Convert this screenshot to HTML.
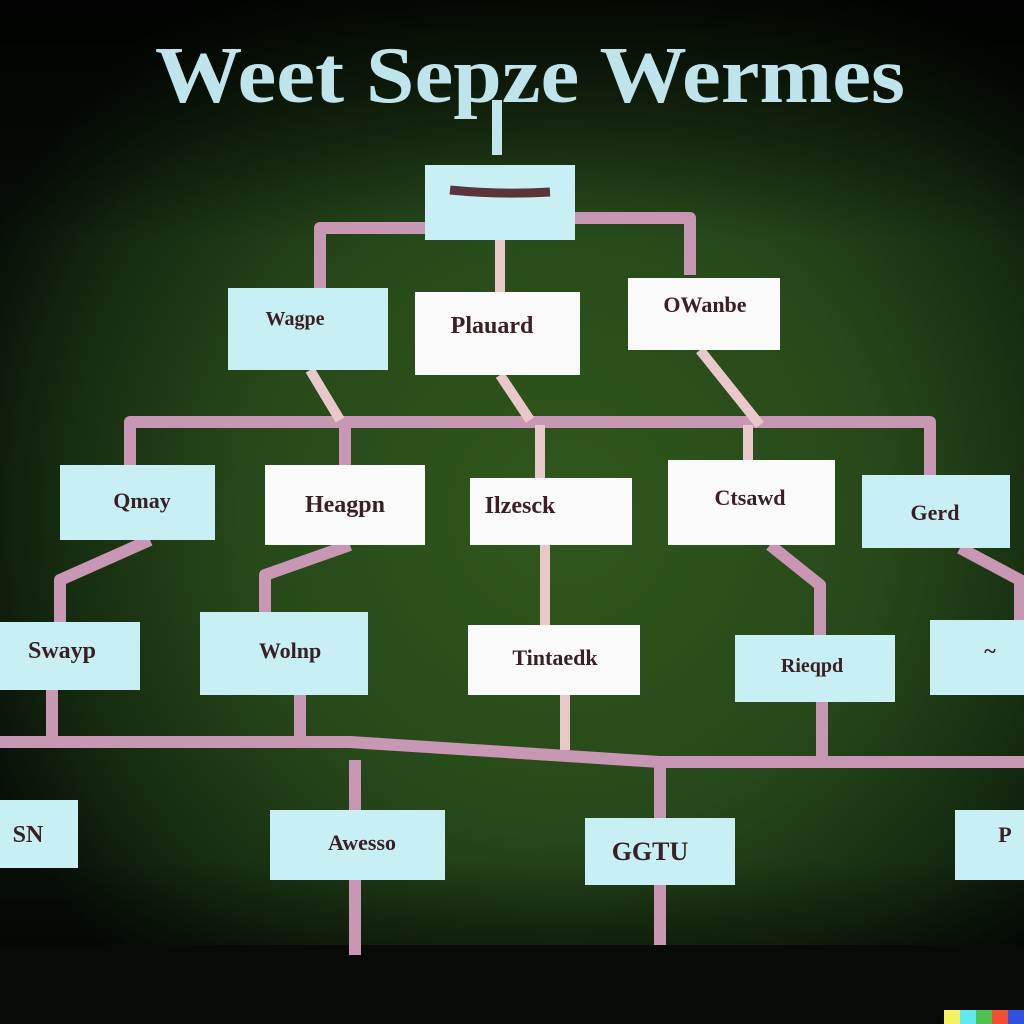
<!DOCTYPE html>
<html><head><meta charset="utf-8"><style>
html,body{margin:0;padding:0;width:1024px;height:1024px;overflow:hidden;background:#0a120a}
svg{display:block}
text{font-family:"Liberation Serif",serif;font-weight:bold;fill:#3a2024;text-anchor:middle}
</style></head><body>
<svg width="1024" height="1024" viewBox="0 0 1024 1024" xmlns="http://www.w3.org/2000/svg">
<defs>
<radialGradient id="bg" cx="0.55" cy="0.5" r="0.62">
<stop offset="0" stop-color="#30581c"/>
<stop offset="0.5" stop-color="#27491a"/>
<stop offset="0.8" stop-color="#152b10"/>
<stop offset="1" stop-color="#070d07"/>
</radialGradient>
<linearGradient id="bot" x1="0" y1="0" x2="0" y2="1">
<stop offset="0" stop-color="#000" stop-opacity="0"/>
<stop offset="1" stop-color="#000" stop-opacity="0.8"/>
</linearGradient>
<linearGradient id="top" x1="0" y1="0" x2="0" y2="1">
<stop offset="0" stop-color="#000" stop-opacity="0.8"/>
<stop offset="1" stop-color="#000" stop-opacity="0"/>
</linearGradient>
</defs>
<rect width="1024" height="1024" fill="url(#bg)"/>
<rect y="0" width="1024" height="240" fill="url(#top)"/>
<rect y="860" width="1024" height="164" fill="url(#bot)"/>
<rect y="945" width="1024" height="79" fill="#070a07"/>

<text x="530" y="102" font-size="80" style="fill:#bfe4ec;font-weight:bold;text-anchor:middle" textLength="750" lengthAdjust="spacingAndGlyphs">Weet Sepze Wermes</text>
<rect x="492" y="100" width="10" height="55" fill="#bfe4ec"/>

<g stroke="#c797b4" stroke-width="12" fill="none" stroke-linejoin="round">
<path d="M320 290 V228 H430"/><path d="M570 218 H690 V275"/>
<path d="M130 480 V422 H930 V482"/>
<path d="M60 630 V580 L150 540"/><path d="M265 615 V575 L350 545"/>
<path d="M820 640 V585 L770 545"/><path d="M1020 630 V580 L960 548"/>
<path d="M0 742 H350 L660 762 H1024"/>
<path d="M300 690 V742"/><path d="M822 700 V765"/><path d="M52 690 V742"/>
<path d="M355 760 V955"/><path d="M660 765 V945"/>
<path d="M345 425 V470"/>
</g>
<g stroke="#e8c8c8" stroke-width="10" fill="none">
<path d="M500 240 V292"/><path d="M310 370 L340 420"/><path d="M500 375 L530 420"/>
<path d="M540 425 V478"/><path d="M545 545 V625"/><path d="M565 695 V750"/>
<path d="M700 350 L760 425"/><path d="M748 425 V462"/>
</g>

<g>
<rect x="425" y="165" width="150" height="75" fill="#c8f0f4"/>
<path d="M450 190 Q500 195 550 192" stroke="#5a3438" stroke-width="9" fill="none"/>

<rect x="228" y="288" width="160" height="82" fill="#c8f0f4"/><text x="295" y="325" font-size="20">Wagpe</text>
<rect x="415" y="292" width="165" height="83" fill="#fafafa"/><text x="492" y="333" font-size="24">Plauard</text>
<rect x="628" y="278" width="152" height="72" fill="#fafafa"/><text x="705" y="312" font-size="22">OWanbe</text>

<rect x="60" y="465" width="155" height="75" fill="#c8f0f4"/><text x="142" y="508" font-size="22">Qmay</text>
<rect x="265" y="465" width="160" height="80" fill="#fafafa"/><text x="345" y="512" font-size="24">Heagpn</text>
<rect x="470" y="478" width="162" height="67" fill="#fafafa"/><text x="520" y="513" font-size="24">Ilzesck</text>
<rect x="668" y="460" width="167" height="85" fill="#fafafa"/><text x="750" y="505" font-size="22">Ctsawd</text>
<rect x="862" y="475" width="148" height="73" fill="#c8f0f4"/><text x="935" y="520" font-size="22">Gerd</text>

<rect x="0" y="622" width="140" height="68" fill="#c8f0f4"/><text x="62" y="658" font-size="24">Swayp</text>
<rect x="200" y="612" width="168" height="83" fill="#c8f0f4"/><text x="290" y="658" font-size="22">Wolnp</text>
<rect x="468" y="625" width="172" height="70" fill="#fafafa"/><text x="555" y="665" font-size="22">Tintaedk</text>
<rect x="735" y="635" width="160" height="67" fill="#c8f0f4"/><text x="812" y="672" font-size="20">Rieqpd</text>
<rect x="930" y="620" width="94" height="75" fill="#c8f0f4"/><text x="990" y="658" font-size="22">~</text>

<rect x="0" y="800" width="78" height="68" fill="#c8f0f4"/><text x="28" y="842" font-size="24">SN</text>
<rect x="270" y="810" width="175" height="70" fill="#c8f0f4"/><text x="362" y="850" font-size="22">Awesso</text>
<rect x="585" y="818" width="150" height="67" fill="#c8f0f4"/><text x="650" y="860" font-size="26">GGTU</text>
<rect x="955" y="810" width="69" height="70" fill="#c8f0f4"/><text x="1005" y="842" font-size="22">P</text>
</g>
<rect x="944" y="1010" width="16" height="14" fill="#f8f060"/><rect x="960" y="1010" width="16" height="14" fill="#60e8f0"/><rect x="976" y="1010" width="16" height="14" fill="#50c050"/><rect x="992" y="1010" width="16" height="14" fill="#f05030"/><rect x="1008" y="1010" width="16" height="14" fill="#3050e0"/>
</svg>
</body></html>
